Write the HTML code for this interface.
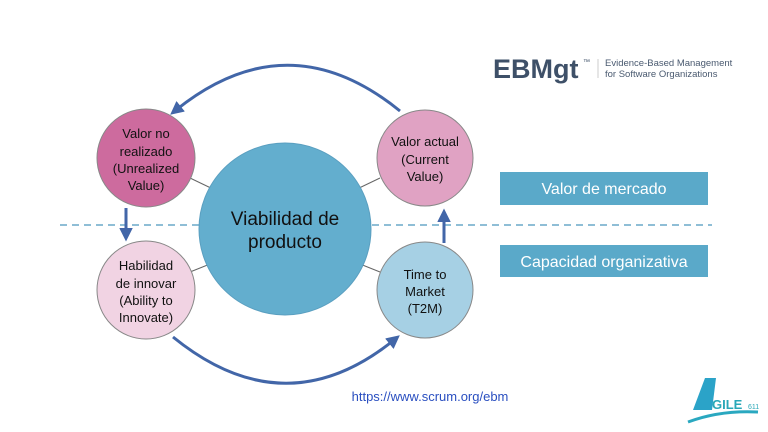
<!DOCTYPE html>
<html><head><meta charset="utf-8"><style>
body{margin:0;background:#fff;}
svg{display:block;font-family:"Liberation Sans",sans-serif;}
</style></head><body>
<svg width="768" height="432" viewBox="0 0 768 432" xmlns="http://www.w3.org/2000/svg">
<defs>
<marker id="ah" markerWidth="4.5" markerHeight="4.5" refX="2" refY="2.25" orient="auto" markerUnits="strokeWidth">
<path d="M0,0 L4.5,2.25 L0,4.5 z" fill="#4266a8"/></marker>
</defs>
<line x1="60" y1="225" x2="712" y2="225" stroke="#6aa8c8" stroke-width="1.5" stroke-dasharray="7,5"/>
<line x1="190" y1="178" x2="215" y2="190" stroke="#666" stroke-width="1"/>
<line x1="380" y1="178" x2="355" y2="190" stroke="#666" stroke-width="1"/>
<line x1="190" y1="272" x2="210" y2="264" stroke="#666" stroke-width="1"/>
<line x1="380" y1="272" x2="360" y2="264" stroke="#666" stroke-width="1"/>
<circle cx="285" cy="229" r="86" fill="#63aece" stroke="#5a9fc0" stroke-width="1"/>
<circle cx="146" cy="158" r="49" fill="#cd6b9e" stroke="#888" stroke-width="1"/>
<circle cx="425" cy="158" r="48" fill="#e0a2c3" stroke="#888" stroke-width="1"/>
<circle cx="146" cy="290" r="49" fill="#f1d3e3" stroke="#888" stroke-width="1"/>
<circle cx="425" cy="290" r="48" fill="#a6d0e4" stroke="#888" stroke-width="1"/>
<path d="M400,111 Q288,20 176,110" fill="none" stroke="#4266a8" stroke-width="3" marker-end="url(#ah)"/>
<path d="M173,337 Q285,428 394,340" fill="none" stroke="#4266a8" stroke-width="3" marker-end="url(#ah)"/>
<line x1="126" y1="208" x2="126" y2="234" stroke="#4266a8" stroke-width="3" marker-end="url(#ah)"/>
<line x1="444" y1="243" x2="444" y2="216" stroke="#4266a8" stroke-width="3" marker-end="url(#ah)"/>
<g font-size="13" fill="#111" text-anchor="middle">
<text x="146" y="138">Valor no</text><text x="146" y="156">realizado</text><text x="146" y="173">(Unrealized</text><text x="146" y="190">Value)</text>
<text x="425" y="146">Valor actual</text><text x="425" y="164">(Current</text><text x="425" y="181">Value)</text>
<text x="146" y="270">Habilidad</text><text x="146" y="288">de innovar</text><text x="146" y="305">(Ability to</text><text x="146" y="322">Innovate)</text>
<text x="425" y="279">Time to</text><text x="425" y="296">Market</text><text x="425" y="313">(T2M)</text>
</g>
<g font-size="19" fill="#111" text-anchor="middle">
<text x="285" y="225">Viabilidad de</text><text x="285" y="248">producto</text>
</g>
<rect x="500" y="172" width="208" height="33" fill="#5aa9c9"/>
<text x="604" y="194" font-size="16" fill="#fff" text-anchor="middle">Valor de mercado</text>
<rect x="500" y="245" width="208" height="32" fill="#5aa9c9"/>
<text x="604" y="267" font-size="16" fill="#fff" text-anchor="middle">Capacidad organizativa</text>
<text x="430" y="401" font-size="13" fill="#2a4fc0" text-anchor="middle">https://www.scrum.org/ebm</text>
<text x="493" y="78" font-size="27" font-weight="bold" fill="#3e5068">EBMgt</text>
<text x="583" y="64" font-size="7" fill="#3e5068">™</text>
<line x1="598" y1="59" x2="598" y2="78" stroke="#ccc" stroke-width="1"/>
<text x="605" y="66" font-size="9.5" fill="#4a5a70">Evidence-Based Management</text>
<text x="605" y="77" font-size="9.5" fill="#4a5a70">for Software Organizations</text>
<path d="M693,410 L705,378 L716,378 L712,410 Z" fill="#2ba3c8"/>
<text x="712" y="409" font-size="13" fill="#2aa8b8" font-weight="bold">GILE</text>
<text x="748" y="409" font-size="7" fill="#2aa8b8">611</text>
<path d="M688,422 Q720,410 758,412" fill="none" stroke="#2aa8c0" stroke-width="3"/>
</svg>
</body></html>
